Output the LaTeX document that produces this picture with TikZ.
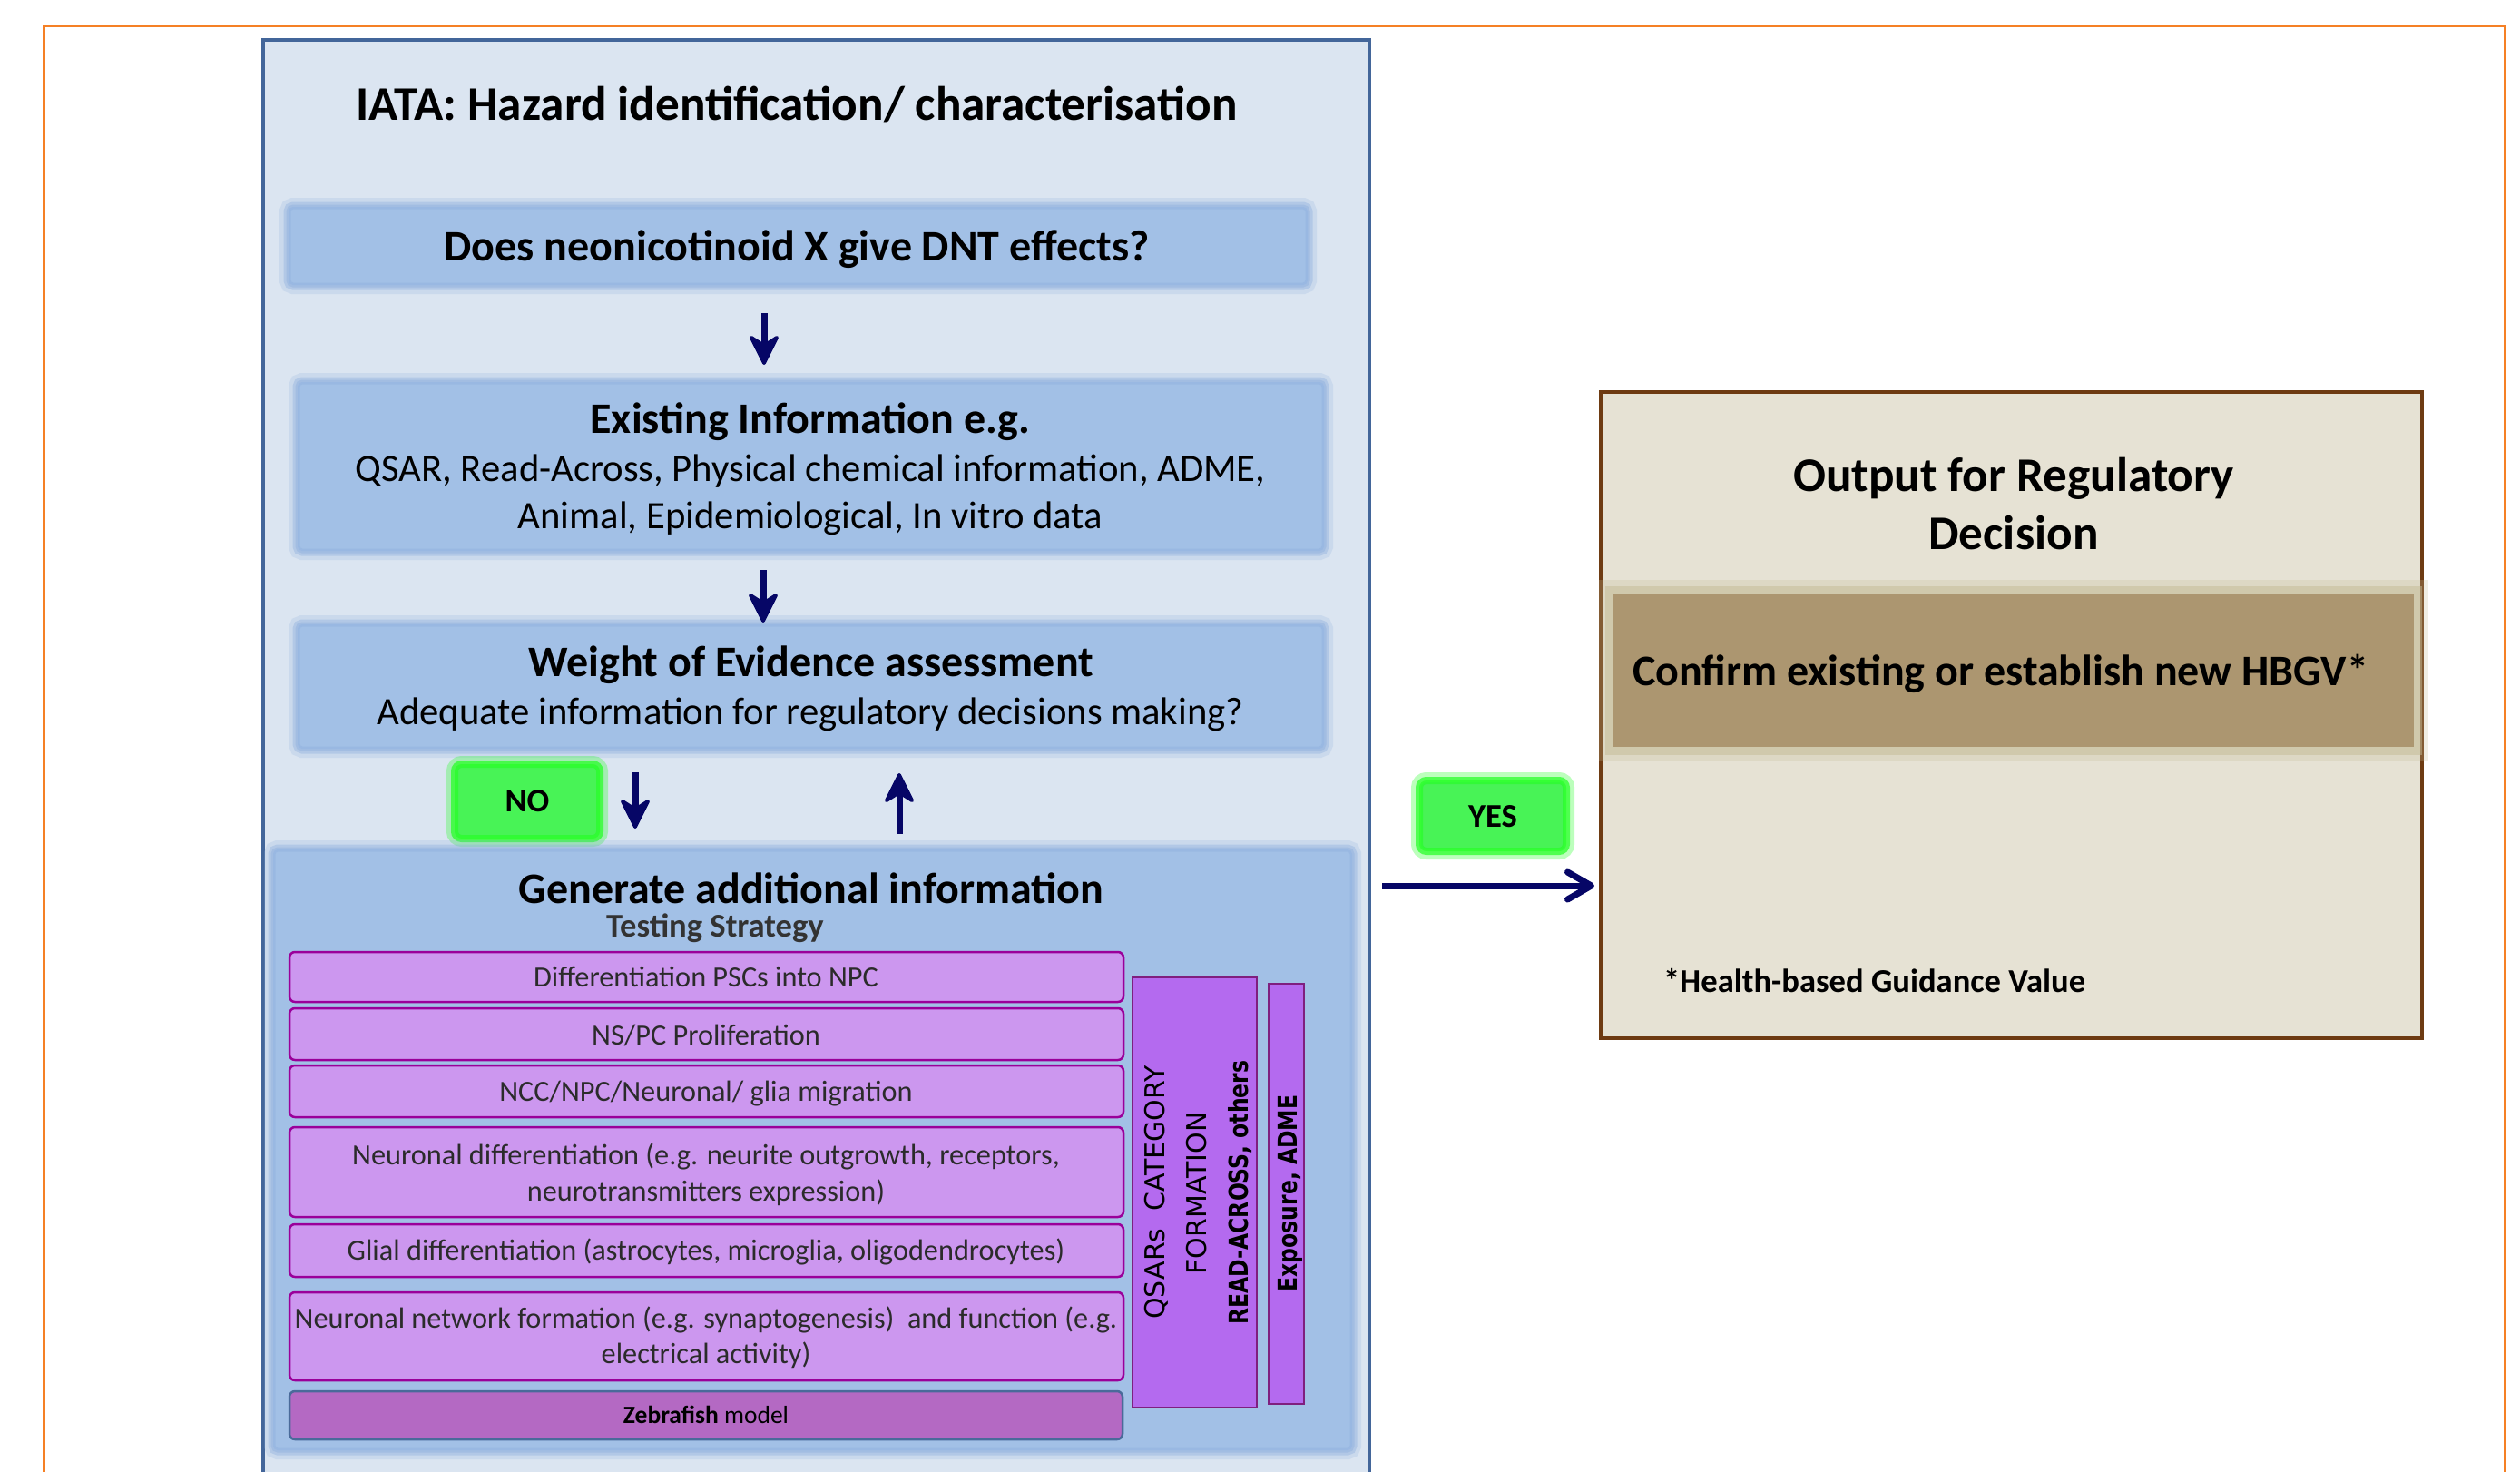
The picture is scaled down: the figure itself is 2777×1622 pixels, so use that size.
\documentclass[tikz,border=0pt]{standalone}
\usepackage{fontspec}
\setmainfont{Carlito}
\newfontfamily\vfont{DejaVu Sans}
\newfontfamily\vfontb[FakeStretch=0.81]{DejaVu Sans}
\usetikzlibrary{arrows.meta,calc}
\definecolor{orangeline}{HTML}{F58025}
\definecolor{iatafill}{HTML}{DBE5F1}
\definecolor{iataline}{HTML}{43669A}
\definecolor{boxblue}{HTML}{A2C0E6}
\definecolor{glowblue}{HTML}{8FB0DE}
\definecolor{barfill}{HTML}{CC97EF}
\definecolor{barline}{HTML}{9A009A}
\definecolor{zebfill}{HTML}{B469C3}
\definecolor{zebline}{HTML}{4A6A9A}
\definecolor{qfill}{HTML}{B46AEF}
\definecolor{qline}{HTML}{7F1F7F}
\definecolor{arrnavy}{HTML}{060666}
\definecolor{greenfill}{HTML}{48F356}
\definecolor{greenglow}{HTML}{22FF22}
\definecolor{outfill}{HTML}{E6E2D4}
\definecolor{outline}{HTML}{6E3B12}
\definecolor{hbgvfill}{HTML}{AC9670}
\definecolor{hbgvglow}{HTML}{C4BC96}
\definecolor{bartext}{HTML}{2B2B2B}
\newcommand\fsTitle{\fontsize{53.2}{64}\selectfont}
\newcommand\fsHead{\fontsize{48}{58}\selectfont}
\newcommand\fsReg{\fontsize{42.7}{51}\selectfont}
\newcommand\fsSmall{\fontsize{36.6}{44}\selectfont}
\newcommand\fsBar{\fontsize{32.3}{40}\selectfont}
\newcommand\fsZeb{\fontsize{27.5}{33}\selectfont}
\tikzset{
  txt/.style={inner sep=0pt, outer sep=0pt, anchor=base},
  boxbase/.style={inner sep=0pt, outer sep=0pt, anchor=north west},
  blueglow/.style={boxbase, fill=boxblue, rounded corners=5pt,
    preaction={draw=glowblue, line width=20pt, draw opacity=0.22},
    preaction={draw=glowblue, line width=11pt, draw opacity=0.4},
    postaction={draw=glowblue, line width=5pt, draw opacity=0.45}},
  greenbox/.style={boxbase, fill=greenfill, rounded corners=6pt,
    preaction={draw=greenglow, line width=22pt, draw opacity=0.3},
    preaction={draw=greenglow, line width=12pt, draw opacity=0.7},
    postaction={draw=greenglow, line width=4pt, draw opacity=0.6}},
  hbgvbox/.style={boxbase, fill=hbgvfill,
    preaction={draw=hbgvglow, line width=32pt, draw opacity=0.25},
    preaction={draw=hbgvglow, line width=18pt, draw opacity=0.5}},
  barbox/.style={boxbase, fill=barfill, draw=barline, line width=2.5pt, rounded corners=6pt},
  zebbox/.style={boxbase, fill=zebfill, draw=zebline, line width=2.5pt, rounded corners=6pt},
  qbox/.style={boxbase, fill=qfill, draw=qline, line width=2.5pt},
  bartxt/.style={txt, font=\fsBar, text=bartext},
  shaft/.style={draw=arrnavy, line width=7pt},
  vhead/.style={fill=arrnavy, draw=arrnavy, line width=4pt, line join=round},
  harrow/.style={draw=arrnavy, line width=7pt, shorten >=7pt, -{Straight Barb[length=26pt,width=30pt,round]}}
}
\begin{document}
\begin{tikzpicture}[x=1pt,y=-1pt]
\useasboundingbox (0,0) rectangle (2777,1622);
\clip (0,0) rectangle (2777,1622);
\fill[white] (0,0) rectangle (2777,1622);
% outer orange frame
\draw[orangeline, line width=3pt] (48,1660) -- (48,28) -- (2760,28) -- (2760,1660);
% IATA container
\node[boxbase, draw=iataline, fill=iatafill, line width=4pt, minimum width=1219pt, minimum height=1640pt] (iata) at (290,44) {};
\node[txt, font=\fsTitle\bfseries] (title) at (878,132) {IATA: Hazard identification/ characterisation};
% box 1
\node[blueglow, minimum width=1123pt, minimum height=86pt] (q) at (318,228) {};
\node[txt, font=\fsHead\bfseries] (qt) at (878,287) {Does neonicotinoid X give DNT effects?};
% box 2
\node[blueglow, minimum width=1131pt, minimum height=186pt] (exist) at (328,421) {};
\node[txt, font=\fsHead\bfseries] (ex1) at (893,477) {Existing Information e.g.};
\node[txt, font=\fsReg] (ex2) at (893,530) {QSAR, Read-Across, Physical chemical information, ADME,};
\node[txt, font=\fsReg] (ex3) at (893,582) {Animal, Epidemiological, In vitro data};
% box 3
\node[blueglow, minimum width=1131pt, minimum height=137pt] (woe) at (328,688) {};
\node[txt, font=\fsHead\bfseries] (w1) at (894,745) {Weight of Evidence assessment};
\node[txt, font=\fsReg] (w2) at (893,798) {Adequate information for regulatory decisions making?};
% NO / YES
\node[greenbox, minimum width=156pt, minimum height=78pt] (no) at (503,844) {};
\node[txt, font=\fsSmall\bfseries] (not) at (581,894) {NO};
\node[greenbox, minimum width=158pt, minimum height=74pt] (yes) at (1566,862) {};
\node[txt, font=\fsSmall\bfseries] (yest) at (1645,911) {YES};
% arrows in IATA (shaft + filled head)
\coordinate (a1s) at (842,345); \coordinate (a1e) at (842,400);
\coordinate (a2s) at (841,628); \coordinate (a2e) at (841,684);
\coordinate (a3s) at (700,851); \coordinate (a3e) at (700,911);
\coordinate (a4s) at (991,919); \coordinate (a4e) at (991,854);
\foreach \s/\e in {a1s/a1e, a2s/a2e, a3s/a3e} {
  \draw[shaft] (\s) -- ($(\e)+(0,-16)$);
  \path[vhead] (\e) -- ++(-14,-28) -- ++(14,9) -- ++(14,-9) -- cycle;
}
\draw[shaft] (a4s) -- ($(a4e)+(0,16)$);
\path[vhead] (a4e) -- ++(-14,28) -- ++(14,-9) -- ++(14,9) -- cycle;
% generate box
\node[blueglow, minimum width=1189pt, minimum height=662pt] (gen) at (301,936) {};
\node[txt, font=\fsHead\bfseries] (gt) at (894,995) {Generate additional information};
\node[txt, font=\fsSmall\bfseries, text=black!80] (ts) at (788,1032) {Testing Strategy};
% bars
\node[barbox, minimum width=919pt, minimum height=55pt] (b1) at (319,1049) {};
\node[bartxt] (b1t) at (778,1087) {Differentiation PSCs into NPC};
\node[barbox, minimum width=919pt, minimum height=57pt] (b2) at (319,1111) {};
\node[bartxt] (b2t) at (778,1151) {NS/PC Proliferation};
\node[barbox, minimum width=919pt, minimum height=57pt] (b3) at (319,1174) {};
\node[bartxt] (b3t) at (778,1213) {NCC/NPC/Neuronal/ glia migration};
\node[barbox, minimum width=919pt, minimum height=99pt] (b4) at (319,1242) {};
\node[bartxt] (b4t) at (778,1283) {Neuronal differentiation (e.g. neurite outgrowth, receptors,};
\node[bartxt] (b4u) at (778,1323) {neurotransmitters expression)};
\node[barbox, minimum width=919pt, minimum height=58pt] (b5) at (319,1349) {};
\node[bartxt] (b5t) at (778,1388) {Glial differentiation (astrocytes, microglia, oligodendrocytes)};
\node[barbox, minimum width=919pt, minimum height=97pt] (b6) at (319,1424) {};
\node[bartxt] (b6t) at (778,1463) {Neuronal network formation (e.g. synaptogenesis)\ \ and function (e.g.};
\node[bartxt] (b6u) at (778,1502) {electrical activity)};
\node[zebbox, minimum width=918pt, minimum height=53pt] (zeb) at (319,1533) {};
\node[txt, font=\fsZeb, text=black] (zt) at (778,1568) {\textbf{Zebrafish} model};
% QSAR columns
\node[qbox, minimum width=137pt, minimum height=474pt] (qsar) at (1248,1077) {};
\node[txt, rotate=90, font=\vfont\fontsize{30}{36}\selectfont] (q1) at (1283,1314) {QSARs\hspace{0.3em} CATEGORY};
\node[txt, rotate=90, font=\vfont\fontsize{30}{36}\selectfont] (q2) at (1329,1315) {FORMATION};
\node[txt, rotate=90, font=\vfontb\bfseries\fontsize{29}{35}\selectfont] (q3) at (1375,1314) {READ-ACROSS, others};
\node[qbox, minimum width=39pt, minimum height=463pt] (expo) at (1398,1084) {};
\node[txt, rotate=90, font=\vfontb\bfseries\fontsize{29}{35}\selectfont] (e1) at (1429,1315) {Exposure, ADME};
% output box
\node[boxbase, draw=outline, fill=outfill, line width=4pt, minimum width=905pt, minimum height=712pt] (out) at (1764,432) {};
\node[txt, font=\fsTitle\bfseries] (o1) at (2219,541) {Output for Regulatory};
\node[txt, font=\fsTitle\bfseries] (o2) at (2219,605) {Decision};
\node[hbgvbox, minimum width=882pt, minimum height=168pt] (hbgv) at (1778,655) {};
\node[txt, anchor=base west, font=\fsHead\bfseries] (ht) at (1799,755) {Confirm existing or establish new HBGV*};
\node[txt, anchor=base west, font=\fsSmall\bfseries] (hn) at (1833,1093) {*Health-based Guidance Value};
% yes arrow
\coordinate (ys) at (1523,976);
\draw[harrow] (ys) -- (out.west |- ys) ;
\end{tikzpicture}
\end{document}
